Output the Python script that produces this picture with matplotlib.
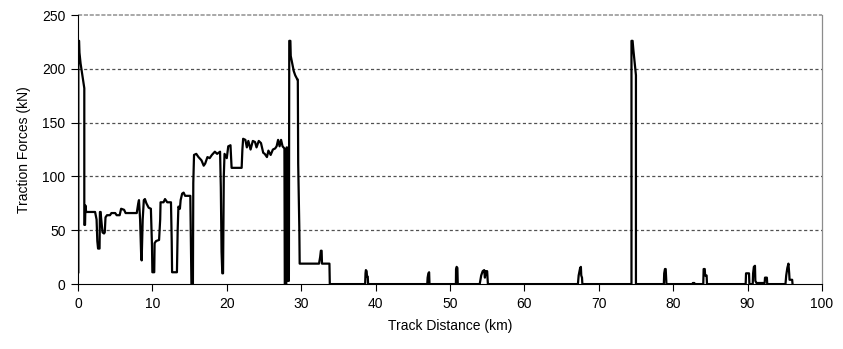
import matplotlib.pyplot as plt

plt.rcParams['font.family'] = ['Liberation Sans', 'DejaVu Sans']

# Traction force along the route
dist_km = [
    0.05, 0.05, 0.15, 0.2, 0.35, 0.5, 0.7, 0.85, 0.85, 0.95, 1.0, 1.1, 1.5, 2.0, 2.3,
    2.5, 2.6, 2.7, 2.9, 2.95, 3.05, 3.1, 3.3, 3.5, 3.6, 3.7, 3.9, 4.3, 4.5, 5.0,
    5.2, 5.6, 5.8, 6.2, 6.4, 7.0, 7.9, 8.1, 8.2, 8.35, 8.5, 8.56, 8.7, 8.85, 9.0,
    9.2, 9.5, 9.8, 9.95, 10.0, 10.25, 10.3, 10.5, 10.9, 11.05, 11.1, 11.5, 11.7, 12.0, 12.5,
    12.6, 12.65, 13.3, 13.4, 13.5, 13.7, 13.8, 14.0, 14.2, 14.4, 15.1, 15.25, 15.45, 15.5, 15.6,
    15.9, 16.2, 16.6, 16.9, 17.1, 17.4, 17.7, 18.0, 18.4, 18.7, 19.1, 19.2, 19.3, 19.4, 19.5,
    19.55, 19.6, 19.7, 20.0, 20.2, 20.5, 20.65, 22.0, 22.1, 22.2, 22.5, 22.7, 22.9, 23.2, 23.5,
    23.8, 24.0, 24.3, 24.6, 24.9, 25.1, 25.4, 25.6, 25.9, 26.2, 26.5, 26.7, 26.9, 27.1, 27.3,
    27.5, 27.75, 27.8, 28.0, 28.05, 28.1, 28.15, 28.35, 28.4, 28.55, 28.6, 28.8, 29.0, 29.2, 29.5,
    29.55, 29.6, 29.75, 29.8, 32.4, 32.55, 32.65, 32.75, 32.8, 33.8, 33.85,
    38.6, 38.65, 38.7, 38.8, 38.85, 38.95, 39.0,
    46.95, 47.0, 47.1, 47.2, 47.25,
    50.8, 50.82, 50.9, 51.0, 51.05,
    54.0, 54.2, 54.4, 54.6, 54.7, 54.8, 55.0, 55.1,
    67.2, 67.3, 67.5, 67.6, 67.65, 67.75, 67.8,
    74.4, 74.4, 74.55, 74.65, 74.8, 75.0, 75.0,
    78.75, 78.8, 78.9, 79.0, 79.1,
    82.6, 82.65, 82.85, 82.9,
    84.05, 84.1, 84.25, 84.3, 84.5, 84.55,
    89.75, 89.8, 90.2, 90.25, 90.7, 90.75, 90.85, 91.0, 91.05, 91.2, 92.3, 92.35, 92.6, 92.65,
    95.1, 95.2, 95.35, 95.5, 95.6, 95.65, 96.0, 96.05,
]
force_kn = [
    11, 226, 226, 215, 205, 198, 188, 182, 55, 55, 73, 67, 67, 67, 67,
    60, 40, 33, 33, 67, 67, 62, 48, 47, 48, 62, 64, 64, 66, 66,
    64, 64, 70, 69, 66, 66, 66, 75, 78, 60, 25, 22, 60, 78, 79,
    75, 71, 70, 35, 11, 11, 38, 40, 41, 60, 76, 76, 79, 76, 76,
    40, 11, 11, 50, 72, 70, 78, 84, 85, 82, 82, 0, 0, 94, 120,
    121, 118, 115, 110, 112, 118, 117, 120, 123, 121, 123, 90, 30, 10, 10,
    60, 100, 121, 117, 128, 129, 108, 108, 125, 135, 134, 127, 133, 125, 133,
    132, 127, 133, 131, 122, 121, 118, 124, 120, 125, 126, 128, 134, 128, 134,
    128, 126, 0, 0, 127, 127, 3, 3, 226, 226, 212, 205, 198, 194, 190,
    190, 112, 53, 19, 19, 25, 31, 31, 19, 19, 0,
    0, 10, 13, 12, 7, 7, 0,
    0, 6, 10, 11, 0,
    0, 14, 16, 15, 0,
    0, 8, 12, 13, 6, 12, 12, 0,
    0, 8, 15, 16, 8, 6, 0,
    0, 226, 226, 218, 208, 194, 0,
    0, 10, 14, 14, 0,
    0, 1, 1, 0,
    0, 14, 14, 8, 8, 0,
    0, 10, 10, 0, 0, 10, 16, 17, 3, 1, 1, 6, 6, 0,
    0, 8, 15, 19, 10, 4, 4, 0,
]

x_ticks = list(range(0, 101, 10))
y_ticks = [0, 50, 100, 150, 200, 250]

fig = plt.figure(figsize=(8.43, 3.49), dpi=100)
ax = fig.add_axes([0.0925, 0.186, 0.8825, 0.771])

# dashed horizontal grid like the spreadsheet chart, top one is lighter
for y in y_ticks[1:-1]:
    ax.axhline(y, color='#505050', lw=0.9, ls=(0, (2.5, 2)), zorder=0)
ax.axhline(y_ticks[-1], color='#9a9a9a', lw=1.2, ls=(0, (2.5, 1)), zorder=0, clip_on=False)

ax.plot(dist_km, force_kn, color='black', lw=1.6, zorder=2)

ax.set_xlim(0, 100)
ax.set_ylim(0, 250)
ax.set_xticks(x_ticks)
ax.set_yticks(y_ticks)

ax.spines['left'].set_color('black')
ax.spines['bottom'].set_color('black')
ax.spines['top'].set_visible(False)
ax.spines['right'].set_color('#8c8c8c')
ax.spines['right'].set_linewidth(0.9)

ax.tick_params(direction='out', length=5, width=0.8, labelsize=10, colors='black', pad=4)
ax.set_xlabel('Track Distance (km)', fontsize=10, labelpad=6)
ax.set_ylabel('Traction Forces (kN)', fontsize=10, labelpad=8)

fig.savefig('out.png', dpi=100)
